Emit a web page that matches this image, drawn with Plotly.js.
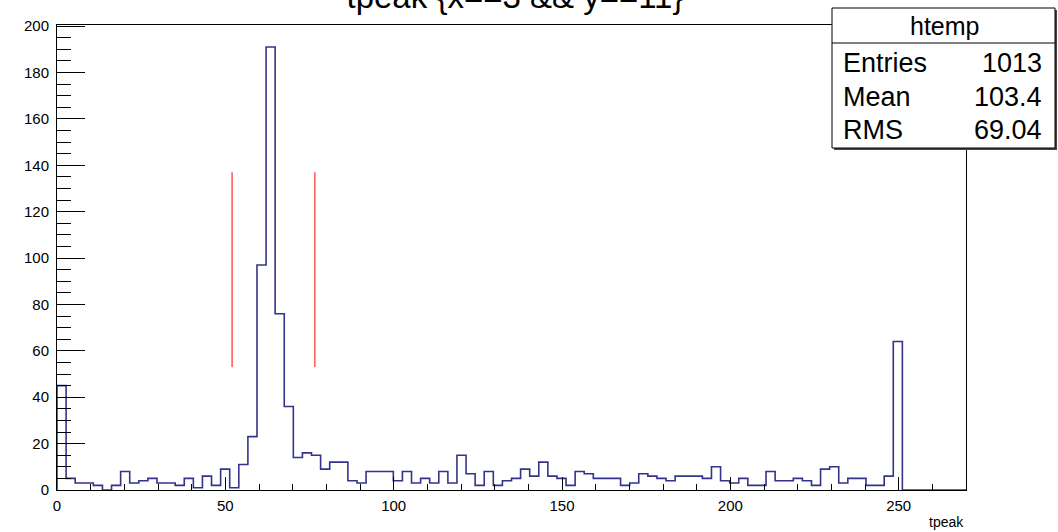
<!DOCTYPE html>
<html>
<head>
<meta charset="utf-8">
<script src="https://cdn.plot.ly/plotly-3.0.1.min.js"></script>
<style>
html,body{margin:0;padding:0;background:#fff;}
#chart{width:1058px;height:532px;}
</style>
</head>
<body>
<div id="chart"></div>
<script>
// Histogram definition (tpeak), 100 bins from 0 to 270
var binLow = 0;
var binWidth = 2.7;
var counts = [
  45, 5, 3, 3, 2, 0, 2, 8, 3, 4,
  5, 3, 3, 2, 5, 1, 6, 2, 9, 1,
  11, 23, 97, 191, 76, 36, 14, 16, 15, 9,
  12, 12, 4, 3, 8, 8, 8, 4, 8, 3,
  5, 3, 8, 3, 15, 7, 2, 8, 2, 4,
  5, 9, 6, 12, 6, 5, 2, 8, 7, 5,
  5, 5, 2, 3, 7, 6, 5, 4, 6, 6,
  6, 5, 10, 4, 3, 5, 2, 2, 8, 4,
  4, 5, 4, 2, 9, 10, 3, 5, 5, 2,
  2, 6, 64, 0, 0, 0, 0, 0, 0, 0
];
// Red marker lines (cut window)
var cutX = [52, 76.6];
var cutY = [53, 137];
// Stats box
var statsName = "htemp";
var statsLabels = ["Entries", "Mean", "RMS"];
var statsValues = ["1013", "103.4", "69.04"];
var titleText = "tpeak {x==3 && y==11}";
var xTitle = "tpeak";
var xTicks = [0, 50, 100, 150, 200, 250];
var yTicks = [0, 20, 40, 60, 80, 100, 120, 140, 160, 180, 200];

// Build step outline
var hx = [binLow], hy = [0];
for (var i = 0; i < counts.length; i++) {
  hx.push(binLow + i * binWidth);
  hy.push(counts[i]);
}
hx.push(binLow + counts.length * binWidth);
hy.push(0);

var traces = [{
  type: 'scatter', mode: 'lines', x: hx, y: hy,
  line: {shape: 'hv', color: '#33338c', width: 1.6},
  hoverinfo: 'skip', showlegend: false
}];
cutX.forEach(function (cx) {
  traces.push({
    type: 'scatter', mode: 'lines', x: [cx, cx], y: cutY,
    line: {color: '#ff0000', width: 1}, showlegend: false, hoverinfo: 'skip'
  });
});

var W = 1058, H = 532;
var L = 57, R = 92, T = 25, B = 42;
var pw = W - L - R, ph = H - T - B;
function px2x(px) { return (px - L) / pw; }
function py2y(py) { return (H - B - py) / ph; }

var font = 'Liberation Sans, Arial, sans-serif';
var annotations = [];
annotations.push({xref: 'paper', yref: 'paper', x: 1, y: py2y(522), xanchor: 'right', yanchor: 'middle',
  text: xTitle, showarrow: false, font: {family: font, size: 14, color: '#000'}});
annotations.push({xref: 'paper', yref: 'paper', x: px2x(944), y: py2y(26), xanchor: 'center', yanchor: 'middle',
  text: statsName, showarrow: false, font: {family: font, size: 25, color: '#000'}});
var rowY = [63, 97, 130];
for (var k = 0; k < statsLabels.length; k++) {
  annotations.push({xref: 'paper', yref: 'paper', x: px2x(841), y: py2y(rowY[k]), xanchor: 'left', yanchor: 'middle',
    text: statsLabels[k], showarrow: false, font: {family: font, size: 27, color: '#000'}});
  annotations.push({xref: 'paper', yref: 'paper', x: px2x(1044), y: py2y(rowY[k]), xanchor: 'right', yanchor: 'middle',
    text: statsValues[k], showarrow: false, font: {family: font, size: 27, color: '#000'}});
}

var shapes = [
  {type: 'rect', xref: 'paper', yref: 'paper', x0: px2x(834), x1: px2x(1057), y0: py2y(150), y1: py2y(10),
   fillcolor: '#444', line: {width: 0}, layer: 'above'},
  {type: 'rect', xref: 'paper', yref: 'paper', x0: px2x(832), x1: px2x(1055), y0: py2y(148), y1: py2y(8),
   fillcolor: '#fff', line: {color: '#000', width: 1}, layer: 'above'},
  {type: 'line', xref: 'paper', yref: 'paper', x0: px2x(832), x1: px2x(1055), y0: py2y(43), y1: py2y(43),
   line: {color: '#000', width: 1}, layer: 'above'}
];

var layout = {
  width: W, height: H,
  paper_bgcolor: '#fff', plot_bgcolor: '#fff',
  margin: {l: L, r: R, t: T, b: B},
  showlegend: false,
  title: {text: titleText, xref: 'container', yref: 'container', x: 515 / W, xanchor: 'center',
    y: 1 - 8 / H, yanchor: 'bottom', font: {family: font, size: 33, color: '#000'}},
  xaxis: {
    range: [0, 270], showgrid: false, zeroline: false,
    showline: true, linecolor: '#000', linewidth: 1, mirror: true,
    ticks: 'inside', ticklen: 13, tickcolor: '#000', tickwidth: 1,
    tickvals: xTicks, ticktext: xTicks.map(String),
    minor: {dtick: 10, tick0: 0, ticks: 'inside', ticklen: 6, tickcolor: '#000', showgrid: false},
    tickfont: {family: font, size: 15, color: '#000'}, ticklabelstandoff: 2
  },
  yaxis: {
    range: [0, 200.5], showgrid: false, zeroline: false,
    showline: true, linecolor: '#000', linewidth: 1, mirror: true,
    ticks: 'inside', ticklen: 28, tickcolor: '#000', tickwidth: 1,
    tickvals: yTicks, ticktext: yTicks.map(String),
    minor: {dtick: 5, tick0: 0, ticks: 'inside', ticklen: 14, tickcolor: '#000', showgrid: false},
    tickfont: {family: font, size: 15, color: '#000'}, ticklabelstandoff: 4
  },
  annotations: annotations,
  shapes: shapes
};

Plotly.newPlot('chart', traces, layout, {staticPlot: true, displayModeBar: false});
</script>
</body>
</html>
